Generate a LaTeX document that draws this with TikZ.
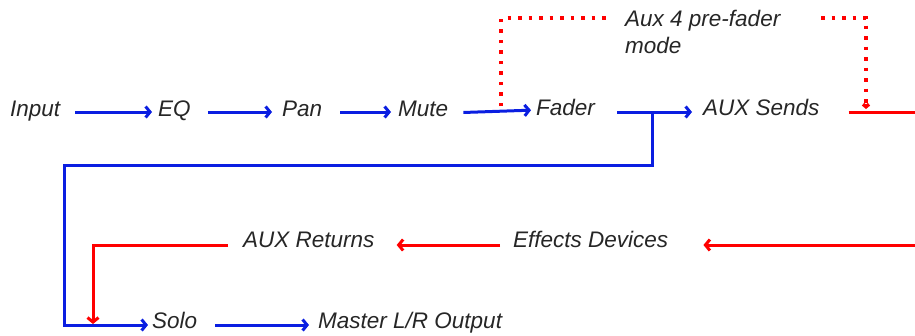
\documentclass[tikz,border=0pt]{standalone}
\usepackage{fontspec}
\setmainfont{Liberation Sans}
\usetikzlibrary{arrows.meta}
\definecolor{lblue}{RGB}{10,30,225}
\definecolor{lred}{RGB}{255,0,0}
\tikzset{
  lbl/.style={font=\itshape\fontsize{22.5}{27}\selectfont, text=black!85, inner sep=0pt, anchor=base west},
  tip/.style={-{Straight Barb[length=4.5pt,width=11pt]}},
  bl/.style={draw=lblue, line width=3pt},
  rl/.style={draw=lred, line width=3pt},
  dotline/.style={draw=lred, line width=3.5pt, dash pattern=on 3.5pt off 7pt},
}
\begin{document}
\begin{tikzpicture}[x=1pt,y=-1pt]
\useasboundingbox (0,0) rectangle (915,335);
% rows
\coordinate (r1) at (0,112);
\coordinate (r3) at (0,245);
\coordinate (r4) at (0,325);
% nodes
\node[lbl] (in)   at (10,116)  {Input};
\node[lbl] (eq)   at (158,116) {EQ};
\node[lbl] (pan)  at (282,116) {Pan};
\node[lbl] (mute) at (398,116) {Mute};
\node[lbl] (fad)  at (536,115) {Fader};
\node[lbl] (aux)  at (703,115) {AUX Sends};
\node[lbl] (pre1) at (625,26)  {Aux 4 pre-fader};
\node[lbl] (pre2) at (625,53)  {mode};
\node[lbl] (ret)  at (243,247) {AUX Returns};
\node[lbl] (fx)   at (513,247) {Effects Devices};
\node[lbl] (solo) at (152,328) {Solo};
\node[lbl] (mast) at (318,328) {Master L/R Output};
% free-end coordinates
\coordinate (tap) at (652,112);
\coordinate (lk)  at (64,165);
\coordinate (rd)  at (93,324);
\coordinate (rout) at (915,112);
\coordinate (rin) at (915,245);
\coordinate (dp) at (501,106);
\coordinate (d1) at (608,18);
\coordinate (d2) at (821,18);
\coordinate (d3) at (866,109);
% blue chain
\draw[bl,tip,shorten <=15pt,shorten >=6pt] (in.east |- r1) -- (eq.west |- r1);
\draw[bl,tip,shorten <=17pt,shorten >=10pt] (eq.east |- r1) -- (pan.west |- r1);
\draw[bl,tip,shorten <=18pt,shorten >=7pt] (pan.east |- r1) -- (mute.west |- r1);
\draw[bl,tip,shorten <=15pt,shorten >=5pt] (mute.east |- 0,113) -- (fad.west |- 0,110);
\draw[bl,tip,shorten <=22pt,shorten >=11pt] (fad.east |- r1) -- (aux.west |- r1);
\draw[bl,tip,shorten >=4pt] (tap) |- (lk) |- (solo.west |- r4);
\draw[bl,tip,shorten <=18pt,shorten >=9pt] (solo.east |- r4) -- (mast.west |- r4);
% red
\draw[rl,shorten <=29pt] (aux.east |- r1) -- (rout);
\draw[rl,tip,shorten >=35pt] (rin) -- (fx.east |- r3);
\draw[rl,tip,shorten <=13pt,shorten >=22pt] (fx.west |- r3) -- (ret.east |- r3);
\draw[rl,tip,shorten <=15pt] (ret.west |- r3) -| (rd);
% dotted pre-fader
\draw[dotline] (dp) |- (d1);
\draw[dotline,-{Straight Barb[length=2.5pt,width=6pt]}] (d2) -| (d3);
\end{tikzpicture}
\end{document}
